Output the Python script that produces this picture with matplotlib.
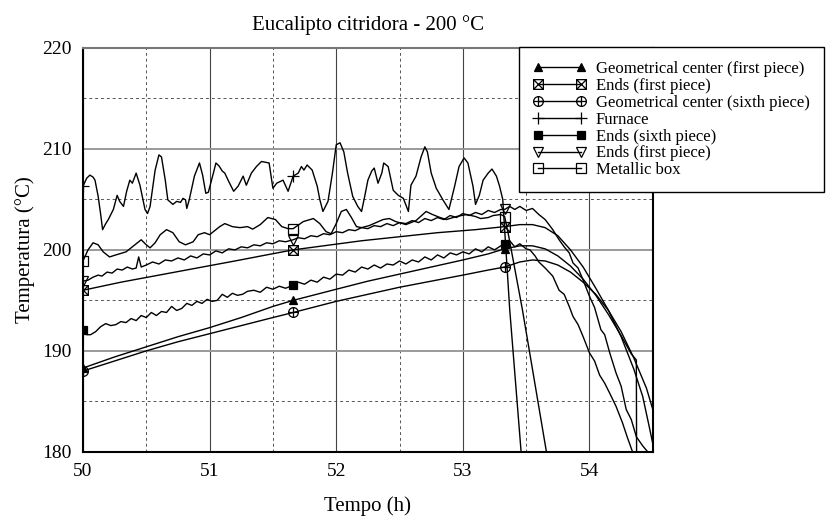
import numpy as np
import matplotlib
matplotlib.use("Agg")
import matplotlib.pyplot as plt
from matplotlib.path import Path

plt.rcParams['font.family'] = ['Liberation Serif', 'DejaVu Serif']

# hours where the markers sit
mark_hours = [50.0, 51.66, 53.33]

# Geometrical center (first piece)
gc1_t = [50.0, 50.25, 50.5, 50.75, 51.0, 51.25, 51.5, 51.66, 52.0, 52.25, 52.5, 52.75,
         53.0, 53.2, 53.33, 53.45, 53.55, 53.65, 53.75, 53.85, 53.95, 54.05, 54.15,
         54.25, 54.33, 54.37, 54.372]
gc1_T = [188.3, 189.4, 190.4, 191.4, 192.3, 193.3, 194.4, 195.0, 196.1, 196.9, 197.6, 198.3,
         199.0, 199.6, 200.1, 200.4, 200.4, 200.1, 199.4, 198.4, 197.1, 195.5, 193.6,
         191.5, 189.7, 189.1, 180.0]

# Ends (first piece) - crossed box
end1_t = [50.0, 50.3, 50.6, 50.9, 51.2, 51.45, 51.66, 51.9, 52.2, 52.5, 52.8, 53.1, 53.33,
          53.45, 53.55, 53.65, 53.75, 53.85, 53.95, 54.05, 54.15, 54.25, 54.35, 54.42,
          54.47, 54.5]
end1_T = [196.0, 196.8, 197.5, 198.2, 198.9, 199.5, 200.0, 200.4, 200.9, 201.3, 201.7, 202.0, 202.3,
          202.5, 202.5, 202.2, 201.4, 200.0, 198.3, 196.2, 194.0, 191.4, 188.2, 185.5,
          182.6, 180.8]

# Geometrical center (sixth piece)
gc6_t = [50.0, 50.25, 50.5, 50.75, 51.0, 51.25, 51.5, 51.66, 52.0, 52.25, 52.5, 52.75,
         53.0, 53.2, 53.33, 53.45, 53.55, 53.65, 53.75, 53.85, 53.95, 54.05, 54.15,
         54.25, 54.35, 54.45, 54.5]
gc6_T = [188.0, 189.0, 190.0, 190.9, 191.7, 192.5, 193.3, 193.8, 194.9, 195.6, 196.3, 196.9,
         197.5, 198.0, 198.3, 198.8, 199.0, 198.9, 198.5, 197.8, 196.8, 195.6, 194.0,
         191.9, 189.3, 186.3, 184.2]

# Furnace
furn_t = [50.0, 50.03, 50.055, 50.08, 50.095, 50.12, 50.14, 50.155, 50.18, 50.2, 50.24, 50.27,
          50.29, 50.32, 50.345, 50.37, 50.39, 50.42, 50.45, 50.49, 50.51, 50.53, 50.57, 50.6,
          50.62, 50.65, 50.67, 50.71, 50.74, 50.77, 50.79, 50.81, 50.82, 50.84, 50.88, 50.92,
          50.945, 50.97, 50.99, 51.03, 51.05, 51.075, 51.1, 51.12, 51.15, 51.19, 51.225, 51.265,
          51.29, 51.33, 51.37, 51.41, 51.47, 51.5, 51.53, 51.58, 51.62, 51.66, 51.7, 51.725,
          51.745, 51.77, 51.81, 51.85, 51.87, 51.895, 51.935, 51.97, 52.0, 52.03, 52.06, 52.09,
          52.13, 52.17, 52.2, 52.225, 52.25, 52.28, 52.3, 52.33, 52.36, 52.375, 52.41, 52.45,
          52.49, 52.53, 52.57, 52.59, 52.63, 52.67, 52.7, 52.72, 52.75, 52.79, 52.84, 52.89,
          52.935, 52.97, 53.01, 53.04, 53.08, 53.1, 53.13, 53.16, 53.2, 53.23, 53.265, 53.29,
          53.315, 53.37, 53.46]
furn_T = [206.3, 207.1, 207.4, 207.2, 206.9, 205.3, 203.5, 202.0, 202.6, 203.0, 204.0, 205.4,
          204.8, 204.3, 205.8, 206.9, 206.6, 207.6, 206.4, 204.0, 203.6, 204.3, 207.9, 209.4,
          209.2, 206.9, 204.95, 204.5, 204.8, 204.7, 205.1, 204.95, 204.1, 205.0, 207.3, 208.6,
          207.4, 205.6, 205.7, 207.6, 208.6, 208.3, 207.8, 207.6, 206.8, 205.8, 206.3, 207.3,
          206.4, 207.6, 208.25, 208.75, 208.6, 206.1, 206.6, 206.9, 205.8, 207.3, 207.6, 208.25,
          207.9, 208.4, 207.9, 206.3, 205.0, 203.8, 204.8, 207.6, 210.4, 210.6, 209.7, 207.6,
          205.3, 204.3, 203.8, 205.3, 206.9, 207.8, 208.1, 206.6, 207.6, 208.6, 208.25, 205.9,
          205.4, 205.1, 203.8, 206.4, 207.3, 209.2, 210.2, 209.7, 207.6, 206.1, 205.0, 204.0,
          206.3, 208.25, 209.1, 208.6, 206.3, 204.5, 205.4, 206.9, 207.6, 208.0, 207.3, 206.3,
          205.0, 194.1, 180.0]

# Ends (sixth piece) - filled square
end6_t = [50.0, 50.03, 50.06, 50.1, 50.14, 50.18, 50.22, 50.26, 50.3, 50.34, 50.38, 50.42,
          50.46, 50.5, 50.54, 50.58, 50.62, 50.66, 50.7, 50.74, 50.78, 50.82, 50.86, 50.9,
          50.94, 50.98, 51.02, 51.06, 51.1, 51.14, 51.18, 51.22, 51.26, 51.3, 51.35, 51.4,
          51.45, 51.5, 51.55, 51.6, 51.66, 51.7, 51.75, 51.8, 51.85, 51.9, 51.95, 52.0, 52.05,
          52.1, 52.15, 52.2, 52.25, 52.3, 52.35, 52.4, 52.45, 52.5, 52.55, 52.6, 52.65, 52.7,
          52.75, 52.8, 52.85, 52.9, 52.95, 53.0, 53.05, 53.1, 53.15, 53.2, 53.25, 53.3, 53.33,
          53.37, 53.41, 53.45, 53.5, 53.53, 53.57, 53.6, 53.65, 53.71, 53.76, 53.8, 53.84,
          53.87, 53.91, 53.95, 54.0, 54.04, 54.08, 54.12, 54.16, 54.21, 54.26, 54.3, 54.34]
end6_T = [192.1, 191.6, 191.6, 191.9, 192.4, 192.7, 192.5, 192.6, 192.9, 192.8, 193.2, 193.0,
          193.5, 193.3, 193.8, 193.5, 193.9, 193.8, 194.4, 194.0, 194.2, 194.7, 194.5, 194.9,
          194.7, 195.1, 194.9, 195.0, 195.6, 195.3, 195.7, 195.5, 195.6, 195.9, 196.0, 195.8,
          196.3, 196.1, 196.4, 196.2, 196.5, 196.8, 196.6, 197.0, 196.8, 197.3, 197.1, 197.6,
          197.5, 198.0, 197.8, 198.3, 198.1, 198.5, 198.2, 198.6, 198.5, 198.9, 198.6, 199.0,
          198.8, 199.3, 199.0, 199.5, 199.2, 199.7, 199.5, 199.8, 199.6, 200.1, 199.8, 200.3,
          200.0, 200.4, 200.6, 200.9, 200.3, 200.6, 200.1, 200.0, 199.4, 198.8, 198.2, 197.4,
          196.0, 195.6, 194.4, 193.4, 192.6, 191.4, 189.8, 189.0, 187.6, 186.8, 185.8, 184.5,
          182.9, 181.4, 180.0]

# Ends (first piece) - open triangle
endb_t = [50.0, 50.04, 50.08, 50.12, 50.15, 50.19, 50.23, 50.27, 50.31, 50.35, 50.39, 50.42,
          50.44, 50.46, 50.5, 50.55, 50.6, 50.65, 50.7, 50.75, 50.8, 50.85, 50.9, 50.95, 51.0,
          51.05, 51.1, 51.15, 51.2, 51.25, 51.3, 51.35, 51.4, 51.45, 51.5, 51.55, 51.6, 51.66,
          51.7, 51.75, 51.8, 51.85, 51.9, 51.95, 52.0, 52.05, 52.1, 52.15, 52.2, 52.25, 52.3,
          52.35, 52.4, 52.45, 52.5, 52.55, 52.6, 52.65, 52.7, 52.75, 52.8, 52.85, 52.9, 52.95,
          53.0, 53.05, 53.1, 53.15, 53.2, 53.25, 53.3, 53.33, 53.37, 53.41, 53.45, 53.5, 53.55,
          53.6, 53.65, 53.71, 53.76, 53.8, 53.84, 53.87, 53.91, 53.95, 54.0, 54.04, 54.09,
          54.12, 54.16, 54.21, 54.25, 54.29, 54.33, 54.37, 54.42, 54.46]
endb_T = [196.9, 197.0, 197.3, 197.5, 197.4, 197.8, 197.7, 198.1, 198.0, 198.3, 198.1, 198.2,
          199.3, 198.3, 198.5, 198.8, 198.6, 199.0, 198.9, 199.2, 199.0, 199.4, 199.2, 199.6,
          199.5, 199.9, 199.7, 200.1, 200.0, 200.3, 200.2, 200.5, 200.4, 200.7, 200.6, 200.9,
          200.8, 201.0, 201.2, 201.1, 201.4, 201.3, 201.6, 201.5, 201.8, 201.7, 202.0, 201.9,
          202.2, 202.1, 202.4, 202.3, 202.6, 202.4, 202.7, 202.6, 202.9, 202.7, 203.1, 202.9,
          203.2, 203.0, 203.4, 203.2, 203.6, 203.4, 203.7, 203.5, 203.9, 203.7, 204.0, 204.0,
          204.3, 204.0, 204.3, 203.9, 204.1, 203.5, 203.0, 202.0, 201.0, 200.3, 199.7, 198.7,
          198.2, 197.0, 195.4, 194.3, 192.1, 191.6, 189.8, 187.8, 186.5, 184.2, 183.2, 181.5,
          180.6, 180.0]

# Metallic box
box_t = [50.0, 50.04, 50.08, 50.12, 50.16, 50.21, 50.26, 50.34, 50.41, 50.46, 50.5, 50.53,
         50.57, 50.61, 50.66, 50.71, 50.76, 50.81, 50.87, 50.91, 50.96, 51.0, 51.05, 51.08,
         51.12, 51.18, 51.24, 51.3, 51.34, 51.4, 51.46, 51.52, 51.57, 51.62, 51.66, 51.74,
         51.82, 51.87, 51.92, 51.96, 52.0, 52.04, 52.08, 52.12, 52.16, 52.2, 52.26, 52.37,
         52.42, 52.47, 52.55, 52.63, 52.71, 52.76, 52.82, 52.87, 52.95, 53.03, 53.1, 53.14,
         53.2, 53.24, 53.3, 53.33, 53.36, 53.47, 53.66]
box_T = [198.9, 200.0, 200.7, 200.5, 199.8, 199.3, 199.5, 199.8, 200.5, 201.0, 200.5, 200.2,
         200.7, 201.5, 202.0, 201.7, 200.8, 200.5, 200.8, 201.5, 201.7, 201.5, 202.0, 202.3,
         202.6, 202.3, 202.2, 202.3, 202.05, 202.5, 203.2, 203.0, 202.3, 202.1, 202.1, 202.8,
         203.1, 202.6, 201.8, 201.6, 202.6, 203.8, 204.0, 203.2, 202.3, 202.2, 202.4, 203.0,
         203.1, 202.8, 202.5, 202.9, 203.8, 203.5, 203.2, 203.0, 203.3, 203.5, 203.3, 203.1,
         203.2, 203.4, 203.5, 203.3, 201.5, 194.1, 180.0]

labels = ['Geometrical center (first piece)', 'Ends (first piece)',
          'Geometrical center (sixth piece)', 'Furnace', 'Ends (sixth piece)',
          'Ends (first piece)', 'Metallic box']

# custom markers: square with X, circle with +
M, L = Path.MOVETO, Path.LINETO
box_x = Path([(-1, -1), (1, -1), (1, 1), (-1, 1), (-1, -1), (-1, -1), (1, 1), (-1, 1), (1, -1)],
             [M, L, L, L, L, M, L, M, L])
circ_plus = Path.make_compound_path(Path.unit_circle(),
                                    Path([(0, -1), (0, 1)], [M, L]),
                                    Path([(-1, 0), (1, 0)], [M, L]))

series = [
    (gc1_t, gc1_T, dict(marker='^', markersize=6, markerfacecolor='black')),
    (end1_t, end1_T, dict(marker=box_x, markersize=7, markerfacecolor='none')),
    (gc6_t, gc6_T, dict(marker=circ_plus, markersize=7, markerfacecolor='none')),
    (furn_t, furn_T, dict(marker='+', markersize=8)),
    (end6_t, end6_T, dict(marker='s', markersize=6, markerfacecolor='black')),
    (endb_t, endb_T, dict(marker='v', markersize=7, markerfacecolor='none')),
    (box_t, box_T, dict(marker='s', markersize=7, markerfacecolor='none')),
]

fig = plt.figure(figsize=(8.38, 5.2), dpi=100)
ax = fig.add_axes([0.099, 0.131, 0.68, 0.777])

for (t, T, style), lab in zip(series, labels):
    t = np.array(t)
    idx = [i for i, v in enumerate(t) if np.any(np.isclose(v, mark_hours))]
    ax.plot(t, T, color='black', lw=1.0, markeredgecolor='black', markeredgewidth=0.9,
            markevery=idx, label=lab, **style)

ax.set_xlim(50, 54.5)
ax.set_ylim(180, 220)
ax.set_xticks([50, 51, 52, 53, 54])
ax.set_yticks([180, 190, 200, 210, 220])
ax.set_xticks(np.arange(50.5, 54.5, 1.0), minor=True)
ax.set_yticks([185, 195, 205, 215], minor=True)
ax.grid(True, axis='x', which='major', color='#444444', lw=0.8)
ax.grid(True, axis='y', which='major', color='#9a9a9a', lw=1.4)
ax.grid(True, which='minor', color='#555555', lw=0.7, ls=(0, (3, 3)))
ax.set_axisbelow(True)
ax.tick_params(which='both', length=0, labelsize=14, pad=8)
for s in ax.spines.values():
    s.set_linewidth(1.5)
ax.spines['top'].set_color('#777777')

ax.set_title('Eucalipto citridora - 200 °C', fontsize=15, pad=13)
ax.set_xlabel('Tempo (h)', fontsize=15, labelpad=12)
ax.set_ylabel('Temperatura (°C)', fontsize=15, labelpad=5)

leg = fig.legend(loc='upper left', bbox_to_anchor=(0.6193, 0.9096), fontsize=12,
                 numpoints=2, handlelength=3.2, handletextpad=0.55, labelspacing=0.05,
                 borderpad=0.85, borderaxespad=0, fancybox=False, framealpha=1,
                 edgecolor='black')
leg.get_frame().set_linewidth(1.0)

fig.savefig('out.png', dpi=100)
